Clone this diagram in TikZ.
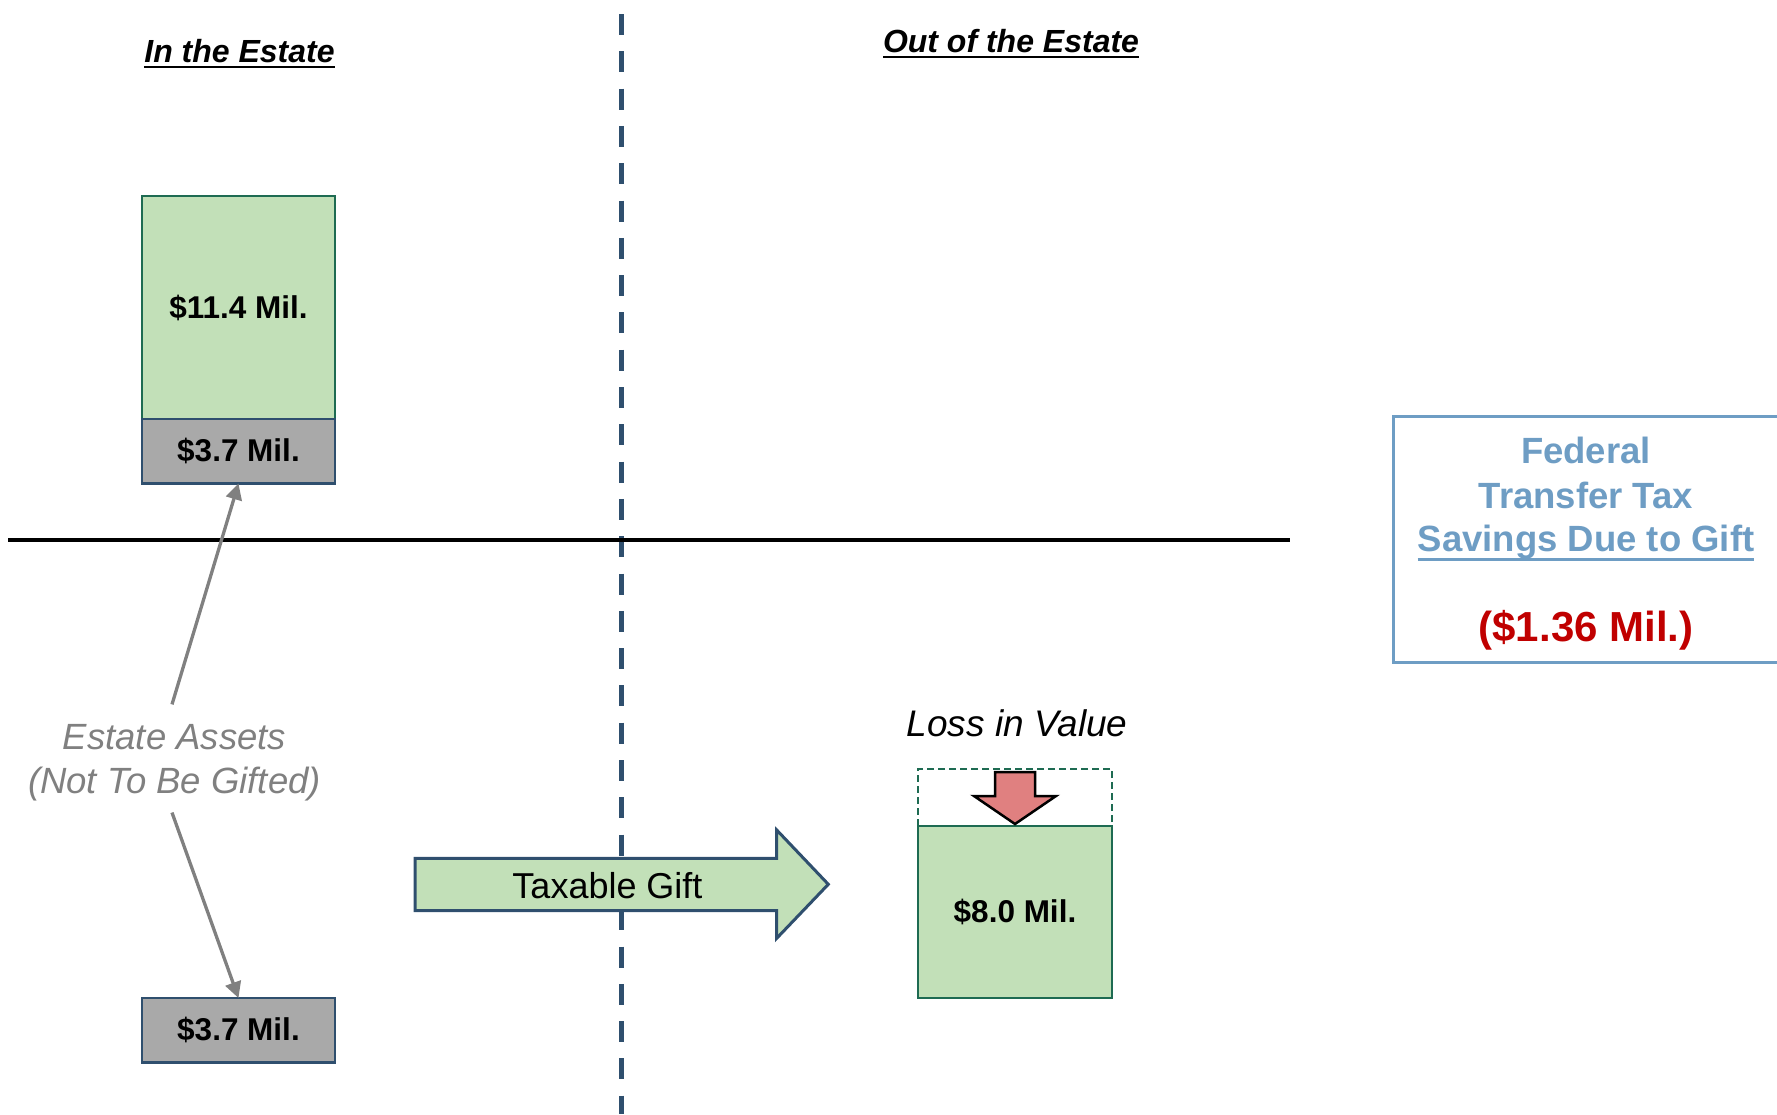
\documentclass[tikz,border=0pt]{standalone}
\usepackage{fontspec}
\setmainfont{Liberation Sans}
\usetikzlibrary{arrows.meta}

\definecolor{boxgreen}{HTML}{C2E0B8}
\definecolor{edgegreen}{HTML}{1E6B52}
\definecolor{slate}{HTML}{2F4F6E}
\definecolor{boxgray}{HTML}{A9A9A9}
\definecolor{steel}{HTML}{6E9DC4}
\definecolor{lossred}{HTML}{E08080}
\definecolor{taxred}{HTML}{C00000}
\definecolor{notegray}{HTML}{808080}

\newcommand\setfs[1]{\fontsize{#1}{#1}\selectfont}

\begin{document}
\begin{tikzpicture}[x=1pt,y=-1pt,
  every node/.style={inner sep=0pt, outer sep=0pt},
  amount/.style={font=\setfs{31.5}\bfseries},
  greenbox/.style={draw=edgegreen, fill=boxgreen, line width=2.2pt, anchor=north west},
  graybox/.style={draw=slate, fill=boxgray, line width=2.2pt, anchor=north west,
                  minimum width=193pt, minimum height=64.5pt},
  lossbox/.style={draw=edgegreen, line width=2pt, dash pattern=on 7pt off 4pt, anchor=north west},
  heading/.style={font=\setfs{32}\bfseries\itshape, anchor=base},
  note/.style={font=\setfs{36.5}\itshape, text=notegray, anchor=base},
  conn/.style={draw=notegray, line width=3.3pt, -{Triangle[length=16pt,width=16pt]}},
  savings/.style={font=\setfs{36.5}\bfseries, text=steel, anchor=base},
]
\useasboundingbox (0,0) rectangle (1777,1114);

% dividing lines
\draw[slate, line width=5pt, dash pattern=on 21pt off 16.3pt] (621,14) -- (621,1114);
\draw[line width=4pt] (8,539.5) -- (1290,539.5);

% column headings
\node[heading] (intitle) at (239.5,62) {In the Estate};
\draw[line width=2.7pt] ([yshift=-5pt]intitle.base west) -- ([yshift=-5pt]intitle.base east);
\node[heading] (outtitle) at (1011,52) {Out of the Estate};
\draw[line width=2.7pt] ([yshift=-5pt]outtitle.base west) -- ([yshift=-5pt]outtitle.base east);

% estate before the gift
\node[greenbox, amount, minimum width=193pt, minimum height=223pt] (big) at (142,196) {\$11.4 Mil.};
\node[graybox, amount] (kept) at (142,419) {\$3.7 Mil.};

% estate after the gift
\node[graybox, amount] (keptb) at (142,998) {\$3.7 Mil.};

% label for the retained assets
\node[note, inner ysep=19.5pt] (assets) at (174.5,749) {Estate Assets};
\node[note, inner ysep=12pt] (notgifted) at (174.5,793) {(Not To Be Gifted)};
\draw[conn] ([xshift=-2.5pt]assets.north) -- (kept.south);
\draw[conn] ([xshift=-2.5pt]notgifted.south) -- (keptb.north);

% the gift arrow
\draw[draw=slate, fill=boxgreen, line width=3pt, line join=miter]
  (415,858.3) -- (776.7,858.3) -- (776.7,830) -- (828.3,884.3)
  -- (776.7,938.3) -- (776.7,910.7) -- (415,910.7) -- cycle;
\node[font=\setfs{36}, anchor=base] (giftlbl) at (607.5,898) {Taxable Gift};

% gifted assets and their loss in value
\node[greenbox, amount, minimum width=194pt, minimum height=172pt] (gifted) at (918,826) {\$8.0 Mil.};
\node[lossbox, minimum width=194pt, minimum height=57pt] (lost) at (918,769) {};
\draw[fill=lossred, line width=2.5pt, line join=miter]
  (995,772) -- (1035,772) -- (1035,796) -- (1056,796) -- (1015,824)
  -- (974,796) -- (995,796) -- cycle;
\node[font=\setfs{37}\itshape, anchor=base] (losslbl) at (1017,736) {Loss in Value};

% tax savings panel
\node[draw=steel, line width=3pt, minimum width=385pt, minimum height=246pt] (savebox) at (1586,539.2) {};
\node[savings] (fed) at (1586,463.5) {Federal};
\node[savings] (ttax) at (1586,508) {Transfer Tax};
\node[savings] (sdg) at (1586,551.7) {Savings Due to Gift};
\draw[steel, line width=3pt] ([yshift=-7.5pt]sdg.base west) -- ([yshift=-7.5pt]sdg.base east);
\node[font=\setfs{42}\bfseries, text=taxred, anchor=base] (saved) at (1586,641.5) {(\$1.36 Mil.)};
\end{tikzpicture}
\end{document}
